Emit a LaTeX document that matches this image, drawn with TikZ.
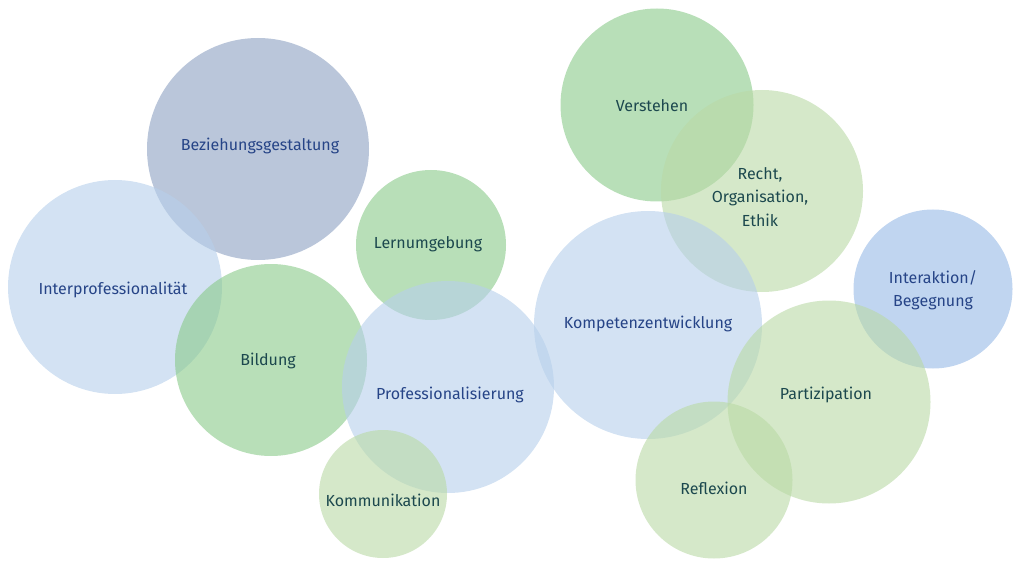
\documentclass[tikz,border=0pt]{standalone}
\usepackage{fontspec}
\setmainfont{Fira Sans}
\definecolor{cLB}{RGB}{182,207,235}
\definecolor{cGB}{RGB}{140,160,193}
\definecolor{cG}{RGB}{137,202,137}
\definecolor{cLG}{RGB}{185,217,165}
\definecolor{cMB}{RGB}{150,185,230}
\definecolor{tBlue}{RGB}{38,68,135}
\definecolor{tTeal}{RGB}{28,72,78}
\tikzset{
  bub/.style={circle, inner sep=0pt, fill opacity=0.6, draw=none},
  lbl/.style={font=\fontsize{16}{23.5}\selectfont, align=center, inner sep=0pt},
}
\begin{document}
\begin{tikzpicture}[x=1pt,y=-1pt]
\useasboundingbox (0,0) rectangle (1024,569);
% circles
\node[bub, fill=cGB, minimum size=222] (bez) at (258,149) {};
\node[bub, fill=cLB, minimum size=214] (inter) at (115,287) {};
\node[bub, fill=cG,  minimum size=192] (bild) at (271,360) {};
\node[bub, fill=cG,  minimum size=150] (lern) at (431,245) {};
\node[bub, fill=cLB, minimum size=212] (prof) at (448,387) {};
\node[bub, fill=cLG, minimum size=128] (komm) at (383,494) {};
\node[bub, fill=cG,  minimum size=193] (vers) at (657,105) {};
\node[bub, fill=cLG, minimum size=202] (recht) at (762,191) {};
\node[bub, fill=cLB, minimum size=228] (komp) at (648,325) {};
\node[bub, fill=cMB, minimum size=159] (inta) at (933,289) {};
\node[bub, fill=cLG, minimum size=203] (part) at (829,402) {};
\node[bub, fill=cLG, minimum size=157] (refl) at (714,480) {};
% labels
\node[lbl, text=tBlue] (tbez) at (260,146) {Beziehungsgestaltung};
\node[lbl, text=tBlue] (tinter) at (113,290) {Interprofessionalität};
\node[lbl, text=tTeal] (tbild) at (268,361) {Bildung};
\node[lbl, text=tTeal] (tlern) at (428,244) {Lernumgebung};
\node[lbl, text=tBlue] (tprof) at (450,395) {Professionalisierung};
\node[lbl, text=tTeal] (tkomm) at (383,500) {Kommunikation};
\node[lbl, text=tTeal] (tvers) at (652,106) {Verstehen};
\node[lbl, text=tTeal] (trecht) at (760,197) {Recht,\\Organisation,\\Ethik};
\node[lbl, text=tBlue] (tkomp) at (648,324) {Kompetenzentwicklung};
\node[lbl, text=tBlue] (tinta) at (933,290) {Interaktion/\\Begegnung};
\node[lbl, text=tTeal] (tpart) at (826,395) {Partizipation};
\node[lbl, text=tTeal] (trefl) at (714,488) {Reflexion};
\end{tikzpicture}
\end{document}
